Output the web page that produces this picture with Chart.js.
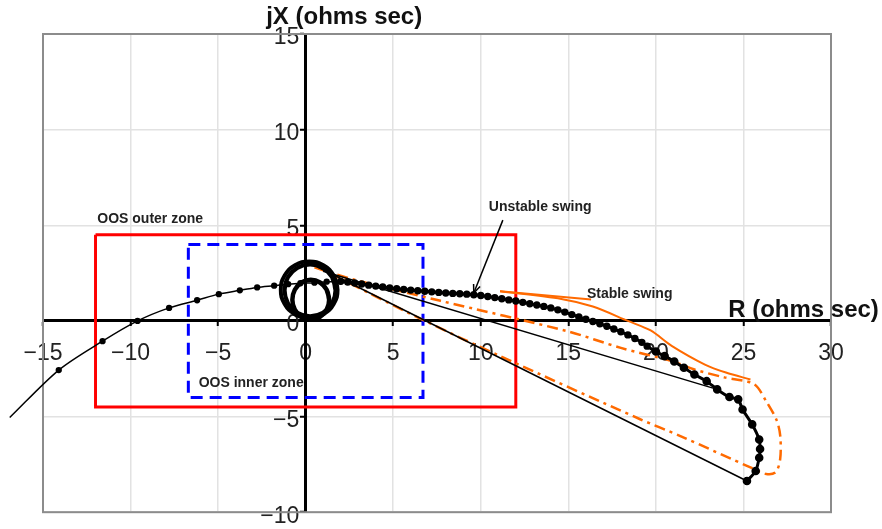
<!DOCTYPE html>
<html>
<head>
<meta charset="utf-8">
<script src="https://cdn.jsdelivr.net/npm/chart.js@4.4.1/dist/chart.umd.min.js"></script>
<style>
  html, body { margin: 0; padding: 0; background: #fff; }
  #wrap { width: 882px; height: 529px; }
</style>
</head>
<body>
<div id="wrap"><canvas id="swingChart" width="882" height="529"></canvas></div>
<script>
// ── Axis ticks ────────────────────────────────────────────────────────────
const rTicks = [-15, -10, -5, 0, 5, 10, 15, 20, 25, 30];
const xTicks = [-10, -5, 0, 5, 10, 15];

// ── OOS zones (R, jX corners) ─────────────────────────────────────────────
const outerZone = [[-12, 4.5], [12, 4.5], [12, -4.5], [-12, -4.5], [-12, 4.5]];
const innerZone = [[-6.7, 4], [6.7, 4], [6.7, -4], [-6.7, -4], [-6.7, 4]];

// ── Unstable swing ────────────────────────────────────────────────────────
const unstableApproach = [
    [-16.9, -5.05], [-14.1, -2.57], [-11.6, -1.06], [-9.6, 0.0], [-7.8, 0.68],
    [-6.2, 1.08], [-4.96, 1.4], [-3.76, 1.6], [-2.77, 1.75], [-1.8, 1.84],
    [-1.0, 1.92], [-0.3, 1.97], [0.5, 2.0], [1.2, 2.05], [2.0, 2.07]
];
const unstableLoopA = [
    [1.82, 1.63], [1.60, 2.37], [1.01, 2.91], [0.20, 3.11], [-0.61, 2.91], [-1.20, 2.37],
    [-1.42, 1.63], [-1.20, 0.89], [-0.61, 0.35], [0.20, 0.15], [1.01, 0.35], [1.60, 0.89],
    [1.82, 1.63], [1.60, 2.37]
];
const unstableLoopB = [
    [1.70, 1.60], [1.51, 2.28], [0.98, 2.77], [0.25, 2.95], [-0.48, 2.77], [-1.01, 2.28],
    [-1.20, 1.60], [-1.01, 0.93], [-0.48, 0.43], [0.25, 0.25], [0.98, 0.43], [1.51, 0.93],
    [1.70, 1.60], [1.51, 2.28]
];
const unstableLoopC = [
    [1.34, 1.11], [1.20, 1.63], [0.82, 2.01], [0.29, 2.15], [-0.24, 2.01], [-0.62, 1.63],
    [-0.76, 1.11], [-0.62, 0.59], [-0.24, 0.21], [0.29, 0.07], [0.82, 0.21], [1.20, 0.59],
    [1.34, 1.11], [1.20, 1.63]
];
const unstableDeparture = [
    [2.0, 2.07], [2.4, 2.03], [2.8, 1.98], [3.2, 1.93], [3.6, 1.87], [4.0, 1.82], [4.4, 1.77],
    [4.8, 1.72], [5.2, 1.68], [5.6, 1.64], [6.0, 1.61], [6.4, 1.58], [6.8, 1.55], [7.2, 1.52],
    [7.6, 1.49], [8.0, 1.46], [8.4, 1.44], [8.8, 1.42], [9.2, 1.40], [9.6, 1.37], [10.0, 1.33],
    [10.4, 1.28], [10.8, 1.22], [11.2, 1.16], [11.6, 1.10], [12.0, 1.04], [12.4, 0.97],
    [12.8, 0.90], [13.2, 0.83], [13.6, 0.76], [14.0, 0.68], [14.4, 0.58], [14.8, 0.46],
    [15.2, 0.33], [15.6, 0.21], [16.0, 0.09], [16.4, -0.03], [16.8, -0.15], [17.2, -0.28],
    [17.6, -0.42], [18.0, -0.57], [18.4, -0.73], [18.8, -0.92], [19.2, -1.12], [19.5, -1.32],
    [20.0, -1.6], [20.5, -1.84], [21.05, -2.12], [21.6, -2.45], [22.2, -2.8], [22.9, -3.15],
    [23.5, -3.58], [24.2, -3.98], [24.7, -4.1], [24.95, -4.63], [25.5, -5.41], [25.9, -6.2],
    [25.95, -6.7], [25.9, -7.15], [25.7, -7.85], [25.2, -8.37]
];
const unstableReturn = [[25.2, -8.37], [0.4, 2.95]];
const unstableChord = [[23.5, -3.58], [1.0, 2.6]];

// ── Stable swing ──────────────────────────────────────────────────────────
const stableSwing = [
    [0.5, 2.8], [2.6, 2.2], [7.7, 1.05], [14.95, -0.54], [18.0, -1.41], [20.9, -2.1],
    [22.2, -2.54], [23.9, -2.95], [25.6, -3.3], [26.3, -4.2], [26.9, -5.2], [27.1, -6.0],
    [27.1, -7.2], [26.85, -7.9], [26.3, -8.0], [25.5, -7.7], [21.4, -6.02], [19.1, -5.14],
    [11.1, -1.84], [6.7, 0.05], [0.5, 2.9]
];
const stableTail = [
    [11.1, 1.55], [14.6, 1.15], [16.4, 0.75], [18.4, 0.0], [19.7, -0.5], [20.9, -1.3],
    [22.8, -2.28], [24.0, -2.7], [25.4, -3.06]
];
const stableLeader = [[11.1, 1.55], [16.3, 1.12]];

// ── Helpers ───────────────────────────────────────────────────────────────
const FONT = '"Liberation Sans", Arial, Helvetica, sans-serif';
const toPts = arr => arr.map(([r, x]) => ({ x: r, y: x }));
const fmt = v => (v < 0 ? '\u2212' + Math.abs(v) : String(v));

function line(data, color, width, extra) {
    return Object.assign({
        data: toPts(data),
        showLine: true,
        borderColor: color,
        backgroundColor: color,
        borderWidth: width,
        pointRadius: 0,
        tension: 0
    }, extra || {});
}

// ── Frame, labels, arrow ──────────────────────────────────────────────────
const overlay = {
    id: 'overlay',
    beforeDatasetsDraw(chart) {
        const { ctx, chartArea: a } = chart;
        ctx.save();
        ctx.strokeStyle = '#8c8c8c';
        ctx.lineWidth = 2;
        ctx.strokeRect(a.left, a.top, a.right - a.left, a.bottom - a.top);
        ctx.restore();
    },
    afterDraw(chart) {
        const { ctx } = chart;
        const sx = chart.scales.x, sy = chart.scales.y;
        const px = v => sx.getPixelForValue(v);
        const py = v => sy.getPixelForValue(v);

        ctx.save();
        ctx.fillStyle = '#111';
        ctx.textBaseline = 'alphabetic';

        // axis titles
        ctx.font = 'bold 24px ' + FONT;
        ctx.textAlign = 'center';
        ctx.fillText('jX (ohms sec)', px(2.2), py(15.5));
        ctx.fillText('R (ohms sec)', px(28.43), py(0.2));

        // zone / swing labels
        ctx.font = 'bold 14px ' + FONT;
        ctx.fillStyle = '#222';
        ctx.textAlign = 'left';
        ctx.fillText('OOS outer zone', px(-11.9), py(5.11));
        ctx.fillText('OOS inner zone', px(-6.11), py(-3.44));
        ctx.fillText('Unstable swing', px(10.46), py(5.74));
        ctx.fillText('Stable swing', px(16.06), py(1.2));

        // arrow to unstable swing
        const x1 = px(11.26), y1 = py(5.27), x2 = px(9.6), y2 = py(1.46);
        const ang = Math.atan2(y2 - y1, x2 - x1);
        ctx.strokeStyle = '#000';
        ctx.lineWidth = 1.5;
        ctx.beginPath();
        ctx.moveTo(x1, y1);
        ctx.lineTo(x2, y2);
        ctx.stroke();
        ctx.beginPath();
        ctx.moveTo(x2, y2);
        ctx.lineTo(x2 - 9 * Math.cos(ang - 0.4), y2 - 9 * Math.sin(ang - 0.4));
        ctx.moveTo(x2, y2);
        ctx.lineTo(x2 - 9 * Math.cos(ang + 0.4), y2 - 9 * Math.sin(ang + 0.4));
        ctx.stroke();
        ctx.restore();
    }
};

// ── Chart ─────────────────────────────────────────────────────────────────
const ORANGE = '#ff6a00';
const ctx = document.getElementById('swingChart').getContext('2d');
new Chart(ctx, {
    type: 'scatter',
    data: {
        datasets: [
            line(unstableDeparture, '#000', 3, {
                pointRadius: c => (c.raw && c.raw.x < 19.6 ? 2.2 : 2.8), tension: 0.2
            }),
            line(unstableApproach, '#000', 1.5, {
                pointRadius: c => (c.dataIndex === 0 ? 0 : 2.4), tension: 0.3, clip: false
            }),
            line(unstableLoopA, '#000', 4, { tension: 0.45 }),
            line(unstableLoopB, '#000', 4, { tension: 0.45 }),
            line(unstableLoopC, '#000', 4.5, { tension: 0.45 }),
            line(unstableReturn, '#000', 1.5),
            line(unstableChord, '#000', 1.5),
            line(stableTail, ORANGE, 2, { tension: 0.3 }),
            line(stableLeader, ORANGE, 2),
            line(stableSwing, ORANGE, 2.5, { borderDash: [11, 5, 3, 5], tension: 0.3 }),
            line(innerZone, '#0000ff', 3, { borderDash: [12, 7] }),
            line(outerZone, '#ff0000', 3)
        ]
    },
    options: {
        responsive: false,
        animation: false,
        layout: { padding: { left: 43, top: 34, right: 51, bottom: 16 } },
        plugins: { legend: { display: false }, tooltip: { enabled: false } },
        scales: {
            x: {
                type: 'linear',
                min: -15,
                max: 30,
                position: { y: 0 },
                afterBuildTicks: axis => { axis.ticks = rTicks.map(v => ({ value: v })); },
                ticks: {
                    autoSkip: false, maxRotation: 0, padding: 15, color: '#222',
                    font: { family: FONT, size: 23 },
                    callback: v => fmt(v)
                },
                grid: { color: '#e2e2e2', lineWidth: 1.5, tickLength: 4, tickColor: '#000', tickWidth: 2 },
                border: { color: '#000', width: 3 }
            },
            y: {
                type: 'linear',
                min: -10,
                max: 15,
                position: { x: 0 },
                afterBuildTicks: axis => { axis.ticks = [-10].concat(xTicks.slice(1)).map(v => ({ value: v })); },
                ticks: {
                    autoSkip: false, color: '#222', labelOffset: 4,
                    font: { family: FONT, size: 23 },
                    callback: v => fmt(v) + ' '
                },
                grid: { color: '#e2e2e2', lineWidth: 1.5, tickLength: 4, tickColor: '#000', tickWidth: 2 },
                border: { color: '#000', width: 3 }
            }
        }
    },
    plugins: [overlay]
});
</script>
</body>
</html>
